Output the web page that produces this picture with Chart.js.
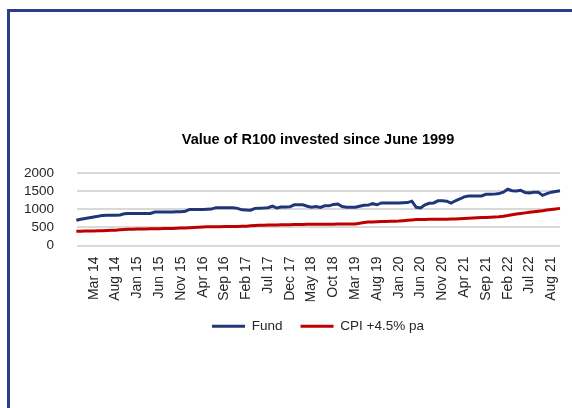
<!DOCTYPE html>
<html lang="en">

<head>
    <meta charset="UTF-8">
    <meta name="viewport" content="width=device-width, initial-scale=1.0">
    <title>Value of R100 invested since June 1999</title>
    <script src="https://cdn.jsdelivr.net/npm/chart.js"></script>
    <style>
        html, body { margin: 0; padding: 0; background: #fff; overflow: hidden; width: 572px; height: 408px; }
        .frame { position: absolute; left: 7px; top: 9px; width: 700px; height: 500px; border-left: 3px solid #2c3d8a; border-top: 3px solid #2c3d8a; }
        .chart-box { position: absolute; left: 0; top: 0; width: 636px; height: 408px; }
    </style>
</head>

<body>
    <div class="frame"></div>
    <div class="chart-box">
        <canvas id="valueChart"></canvas>
    </div>

    <script>
        // monthly values, first point Oct 13, last Feb 23
        const fund = [
            700, 700, 730, 750, 770, 790, 810, 835, 840, 840,
            840, 845, 880, 885, 885, 885, 890, 890, 890, 930,
            930, 930, 930, 930, 935, 935, 950, 1000, 1000, 1000,
            1000, 1005, 1010, 1050, 1050, 1050, 1050, 1050, 1030, 990,
            985, 980, 1030, 1035, 1040, 1050, 1095, 1040, 1070, 1070,
            1075, 1130, 1130, 1130, 1090, 1060, 1080, 1055, 1100, 1100,
            1140, 1150, 1080, 1060, 1060, 1060, 1090, 1115, 1120, 1160,
            1130, 1180, 1180, 1180, 1180, 1180, 1185, 1190, 1230, 1060,
            1040, 1130, 1170, 1180, 1240, 1240, 1230, 1175, 1240, 1290,
            1350, 1370, 1370, 1370, 1375, 1420, 1420, 1425, 1440, 1480,
            1560, 1520, 1510, 1530, 1470, 1460, 1480, 1480, 1390, 1440,
            1480, 1500, 1520
        ];
        const cpi = [
            395, 395, 398, 400, 402, 405, 408, 410, 415, 420,
            425, 435, 445, 448, 452, 455, 458, 460, 463, 466,
            468, 470, 472, 475, 478, 482, 488, 495, 502, 508,
            514, 517, 519, 521, 522, 524, 526, 528, 530, 532,
            535, 545, 555, 560, 563, 566, 569, 572, 575, 577,
            579, 581, 583, 585, 587, 588, 589, 590, 590, 591,
            592, 593, 594, 595, 596, 598, 615, 635, 650, 655,
            660, 664, 668, 672, 676, 680, 688, 698, 710, 720,
            722, 724, 725, 726, 727, 728, 730, 733, 738, 745,
            752, 758, 764, 769, 775, 780, 786, 792, 798, 810,
            830, 855, 875, 890, 905, 920, 935, 950, 965, 985,
            1000, 1015, 1030
        ];

        // labels shown every 5th month, starting at the 6th point
        const tickLabels = ['Mar 14', 'Aug 14', 'Jan 15', 'Jun 15', 'Nov 15', 'Apr 16', 'Sep 16', 'Feb 17',
            'Jul 17', 'Dec 17', 'May 18', 'Oct 18', 'Mar 19', 'Aug 19', 'Jan 20', 'Jun 20', 'Nov 20',
            'Apr 21', 'Sep 21', 'Feb 22', 'Jul 22', 'Aug 21'];
        const firstTick = 5;
        const tickStep = 5;
        const yTicks = [0, 500, 1000, 1500, 2000];

        document.addEventListener('DOMContentLoaded', function () {
            const font = 'Liberation Sans, Arial, sans-serif';
            const ctx = document.getElementById('valueChart').getContext('2d');

            new Chart(ctx, {
                type: 'line',
                data: {
                    datasets: [{
                        label: 'Fund',
                        data: fund.map((v, i) => ({ x: i, y: v })),
                        borderColor: '#1f3778',
                        backgroundColor: '#1f3778',
                        borderWidth: 3,
                        pointRadius: 0,
                        tension: 0,
                        clip: false
                    }, {
                        label: 'CPI +4.5% pa',
                        data: cpi.map((v, i) => ({ x: i, y: v })),
                        borderColor: '#c00000',
                        backgroundColor: '#c00000',
                        borderWidth: 3,
                        pointRadius: 0,
                        tension: 0,
                        clip: false
                    }]
                },
                options: {
                    responsive: true,
                    maintainAspectRatio: false,
                    animation: false,
                    layout: { padding: { bottom: 65 } },
                    plugins: {
                        tooltip: { enabled: false },
                        title: {
                            display: true,
                            text: 'Value of R100 invested since June 1999',
                            color: '#000',
                            font: { family: font, size: 14.5, weight: 'bold' },
                            padding: { top: 131, bottom: 25 }
                        },
                        legend: {
                            position: 'bottom',
                            labels: {
                                usePointStyle: true,
                                pointStyle: 'line',
                                pointStyleWidth: 33,
                                padding: 18,
                                color: '#262626',
                                font: { family: font, size: 13.5 }
                            }
                        }
                    },
                    scales: {
                        x: {
                            type: 'linear',
                            min: 1.15,
                            max: fund.length - 1,
                            grid: { display: false },
                            border: { display: false },
                            afterBuildTicks: s => { s.ticks = tickLabels.map((t, k) => ({ value: firstTick + k * tickStep })); },
                            afterFit: s => { s.height = 56; },
                            ticks: {
                                autoSkip: false,
                                minRotation: 90,
                                maxRotation: 90,
                                padding: 3,
                                color: '#262626',
                                font: { family: font, size: 14 },
                                callback: (v, i) => tickLabels[i]
                            }
                        },
                        y: {
                            min: yTicks[0],
                            max: yTicks[yTicks.length - 1],
                            afterBuildTicks: s => { s.ticks = yTicks.map(v => ({ value: v })); },
                            afterFit: s => { s.width = 77; },
                            grid: { color: '#d9d9d9', lineWidth: 2, drawTicks: false },
                            border: { display: false },
                            ticks: {
                                autoSkip: false,
                                padding: 23,
                                color: '#262626',
                                font: { family: font, size: 13.5 },
                                callback: v => String(v)
                            }
                        },
                        yRight: {
                            position: 'right',
                            grid: { display: false },
                            border: { display: false },
                            ticks: { display: false },
                            afterFit: s => { s.width = 76; }
                        }
                    }
                }
            });
        });
    </script>
</body>

</html>
